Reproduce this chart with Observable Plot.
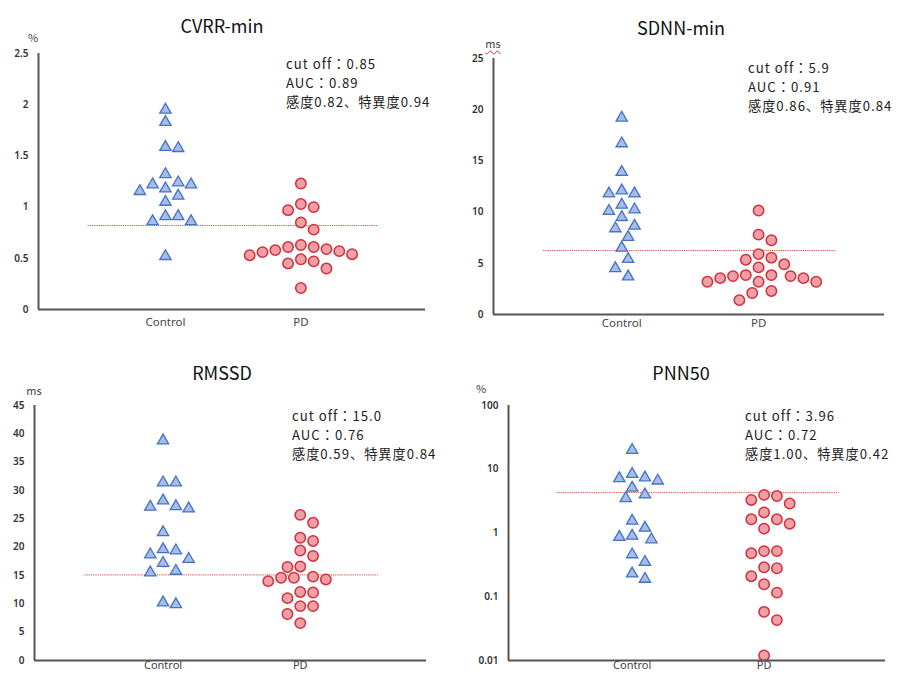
<!DOCTYPE html>
<html>
<head>
<meta charset="utf-8">
<script src="https://cdn.jsdelivr.net/npm/d3@7"></script>
<script src="https://cdn.jsdelivr.net/npm/@observablehq/plot@0.6"></script>
<style>
  html, body { margin: 0; padding: 0; background: #fff; }
  #root { position: relative; width: 898px; height: 679px; overflow: hidden; background: #fff; }
  .panel { position: absolute; width: 449px; overflow: hidden; }
  .panel svg { position: absolute; left: 0; top: 0; }
  .title { position: absolute; font-family: "Noto Sans CJK JP", "Noto Sans", sans-serif; font-size: 18px; line-height: 26px; color: #111; white-space: nowrap; transform: translateX(-50%); }
  .unit { position: absolute; font-family: "Noto Sans CJK JP", "Noto Sans", sans-serif; font-size: 11px; line-height: 16px; color: #444; white-space: nowrap; transform: translateX(-50%); }
  .unit.wavy { text-decoration: underline wavy #e03030; text-decoration-thickness: 1px; text-underline-offset: 2px; }
  .note { position: absolute; font-family: "Noto Sans CJK JP", "Noto Sans", sans-serif; font-size: 13.2px; line-height: 19.2px; letter-spacing: 1px; color: #222; white-space: nowrap; }
</style>
</head>
<body>
<div id="root"></div>
<script>
// ---------- data ----------
const groups = ["Control", "PD"];
const titles = ["CVRR-min", "SDNN-min", "RMSSD", "PNN50"];
const units = ["%", "ms", "ms", "%"];

const cvrrControl = [1.95, 1.83, 1.575, 1.585, 1.32, 1.24, 1.22, 1.22, 1.18, 1.155, 1.11, 1.05, 0.91, 0.91, 0.86, 0.86, 0.52];
const cvrrPD = [1.23, 1.00, 1.03, 0.97, 0.85, 0.78, 0.61, 0.59, 0.61, 0.63, 0.57, 0.54, 0.56, 0.58, 0.53, 0.49, 0.45, 0.47, 0.40, 0.21];

const sdnnControl = [19.2, 16.7, 13.9, 11.8, 12.1, 11.8, 10.7, 10.1, 10.25, 9.5, 8.4, 8.65, 7.55, 6.5, 5.4, 4.5, 3.7];
const sdnnPD = [10.15, 7.8, 7.25, 5.55, 5.9, 4.9, 5.35, 4.6, 3.85, 3.75, 3.55, 3.2, 3.2, 3.2, 3.55, 3.75, 3.85, 2.1, 2.3, 1.4];

const rmssdControl = [38.8, 31.4, 31.4, 28.2, 27.2, 26.8, 27.1, 22.6, 19.4, 19.6, 18.7, 17.9, 17.2, 15.8, 15.5, 9.9, 10.2];
const rmssdPD = [25.7, 24.3, 21.65, 21.1, 19.4, 18.45, 16.5, 16.6, 14.6, 14.8, 14.6, 14.0, 14.3, 12.1, 12.0, 11.0, 9.6, 9.6, 8.2, 6.6];

const pnn50Control = [20, 6.6, 7.4, 8.4, 7.2, 5.1, 4.0, 3.5, 1.55, 1.2, 0.86, 0.79, 0.90, 0.46, 0.35, 0.23, 0.19];
const pnn50PD = [3.8, 3.3, 3.96, 2.9, 2.1, 1.64, 1.64, 1.40, 1.17, 0.52, 0.48, 0.52, 0.28, 0.29, 0.21, 0.157, 0.116, 0.058, 0.043, 0.012];

const cutoffLines = [0.82, 6.25, 15.1, 4.3];
const cutoffTexts = ["cut off：0.85", "cut off：5.9", "cut off：15.0", "cut off：3.96"];
const aucTexts = ["AUC：0.89", "AUC：0.91", "AUC：0.76", "AUC：0.72"];
const sensTexts = ["感度0.82、特異度0.94", "感度0.86、特異度0.84", "感度0.59、特異度0.84", "感度1.00、特異度0.42"];

const yDomains = [[0, 2.5], [0, 25], [0, 45], [0.01, 100]];
const yTicks = [
  [0, 0.5, 1, 1.5, 2, 2.5],
  [0, 5, 10, 15, 20, 25],
  [0, 5, 10, 15, 20, 25, 30, 35, 40, 45],
  [0.01, 0.1, 1, 10, 100]
];
const yTypes = ["linear", "linear", "linear", "log"];
const controlSets = [cvrrControl, sdnnControl, rmssdControl, pnn50Control];
const pdSets = [cvrrPD, sdnnPD, rmssdPD, pnn50PD];

// ---------- layout ----------
const layout = [
  {left: 0,   top: 0,   h: 340, mt: 53, mr: 24, mb: 31, ml: 38, xpad: 8, fs: 11.5, title: [222, 25], unit: [33, 37], note: [286, 54], wavy: false},
  {left: 449, top: 0,   h: 340, mt: 58, mr: 14, mb: 26, ml: 44, xpad: 4, fs: 11.5, title: [232, 27], unit: [44, 43], note: [299, 58], wavy: true},
  {left: 0,   top: 340, h: 339, mt: 65, mr: 23, mb: 19, ml: 34, xpad: 1, fs: 11, title: [222, 32], unit: [34, 50], note: [292, 66], wavy: false},
  {left: 449, top: 340, h: 339, mt: 65, mr: 13, mb: 19, ml: 59, xpad: 1, fs: 11, title: [232, 32], unit: [32, 48], note: [296, 66], wavy: false}
];

const xDomain = [-0.937, 1.92];
const cutExtend = 0.57;
const W = 449;
const dotDiameter = 12.8;

// simple beeswarm: offsets (in px) on a half-diameter grid, no overlaps
function swarm(values, yPix, d) {
  const order = d3.range(values.length).sort((i, j) => yPix(values[i]) - yPix(values[j]));
  const placed = [];
  const out = new Array(values.length);
  for (const i of order) {
    const py = yPix(values[i]);
    for (let s = 0; ; s++) {
      const k = s === 0 ? 0 : (s % 2 ? (s + 1) / 2 : -s / 2);
      const ox = k * d / 2;
      if (placed.every(([qx, qy]) => (ox - qx) ** 2 + (py - qy) ** 2 >= d * d * 0.9)) {
        placed.push([ox, py]);
        out[i] = ox;
        break;
      }
    }
  }
  return out;
}

const root = document.getElementById("root");

layout.forEach((L, p) => {
  const panel = document.createElement("div");
  panel.className = "panel";
  panel.style.left = L.left + "px";
  panel.style.top = L.top + "px";
  panel.style.height = L.h + "px";
  panel.style.width = (898 - L.left) + "px";
  root.appendChild(panel);

  const yScale = Plot.scale({y: {type: yTypes[p], domain: yDomains[p], range: [L.h - L.mb, L.mt]}});
  const yPix = v => yScale.apply(v);
  const pxPerUnit = (W - L.ml - L.mr) / (xDomain[1] - xDomain[0]);

  const cVals = controlSets[p], pVals = pdSets[p];
  const cOff = swarm(cVals, yPix, dotDiameter);
  const pOff = swarm(pVals, yPix, dotDiameter);
  const cData = cVals.map((v, i) => ({x: 0 + cOff[i] / pxPerUnit, y: v}));
  const pData = pVals.map((v, i) => ({x: 1 + pOff[i] / pxPerUnit, y: v}));

  const chart = Plot.plot({
    width: W,
    height: L.h,
    marginTop: L.mt, marginRight: L.mr, marginBottom: L.mb, marginLeft: L.ml,
    style: {background: "transparent", color: "#333", fontFamily: "'Noto Sans', sans-serif", overflow: "visible"},
    x: {domain: xDomain},
    y: {type: yTypes[p], domain: yDomains[p]},
    marks: [
      Plot.axisY({ticks: yTicks[p], tickFormat: d => String(d), tickSize: 0, tickPadding: 10, label: null, fontSize: 10, fontWeight: 600, fill: "#333"}),
      Plot.axisX({ticks: [0, 1], tickFormat: i => groups[i], tickSize: 0, tickPadding: L.xpad, label: null, fontSize: L.fs, fill: "#444"}),
      Plot.ruleY([cutoffLines[p]], {x1: 0 - cutExtend, x2: 1 + cutExtend, stroke: "#e0463f", strokeWidth: 1, strokeDasharray: "1.2,1"}),
      Plot.dot(cData, {x: "x", y: "y", symbol: "triangle", r: 4.2, fill: "#a6bde8", stroke: "#4472c4", strokeWidth: 1.3}),
      Plot.dot(pData, {x: "x", y: "y", symbol: "circle", r: 5.2, fill: "#efa0a7", stroke: "#d22f3a", strokeWidth: 1.5}),
      Plot.ruleX([xDomain[0]], {stroke: "#555", strokeWidth: 2}),
      Plot.ruleY([yDomains[p][0]], {stroke: "#555", strokeWidth: 2})
    ]
  });
  panel.appendChild(chart);

  const t = document.createElement("div");
  t.className = "title";
  t.textContent = titles[p];
  t.style.left = L.title[0] + "px";
  t.style.top = (L.title[1] - 13) + "px";
  panel.appendChild(t);

  const u = document.createElement("div");
  u.className = "unit" + (L.wavy ? " wavy" : "");
  u.textContent = units[p];
  u.style.left = L.unit[0] + "px";
  u.style.top = (L.unit[1] - 8) + "px";
  panel.appendChild(u);

  const n = document.createElement("div");
  n.className = "note";
  n.style.left = L.note[0] + "px";
  n.style.top = L.note[1] + "px";
  [cutoffTexts[p], aucTexts[p], sensTexts[p]].forEach(s => {
    const line = document.createElement("div");
    line.textContent = s;
    n.appendChild(line);
  });
  panel.appendChild(n);
});
</script>
</body>
</html>
